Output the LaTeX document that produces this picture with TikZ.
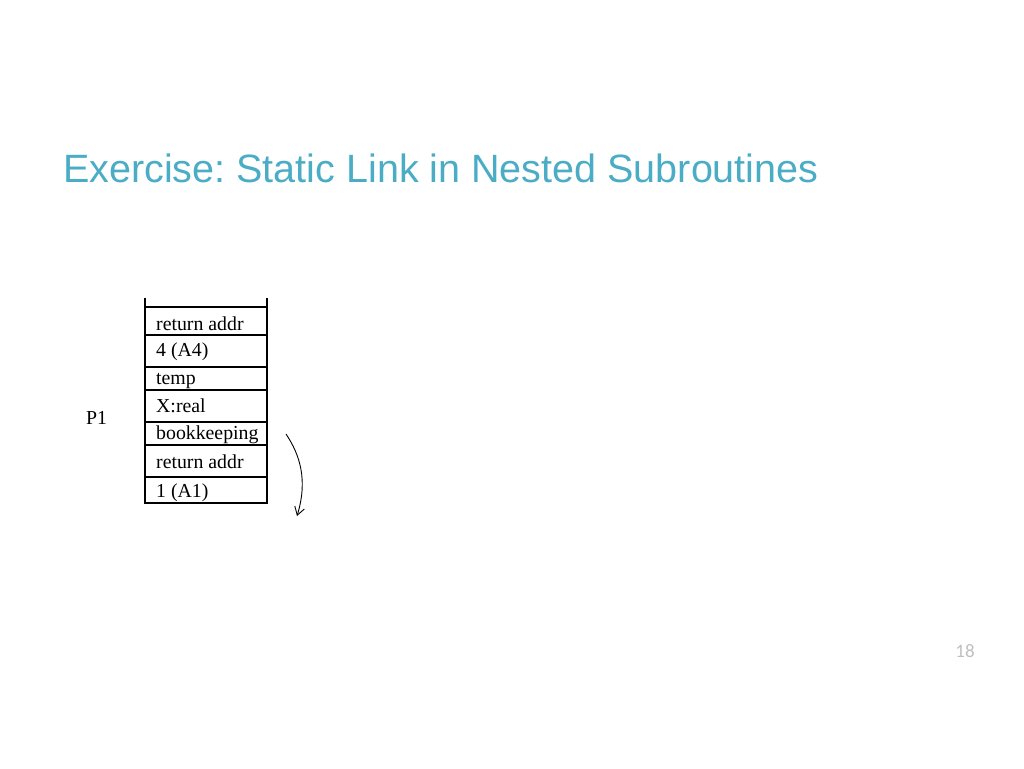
\documentclass[tikz,border=0pt]{standalone}
\usepackage{fontspec}
\setmainfont{Liberation Serif}
\newfontfamily\titlefont{Liberation Sans}
\newfontfamily\numfont{Carlito}
\usetikzlibrary{arrows.meta}
\frenchspacing
\definecolor{titleblue}{RGB}{75,172,198}
\tikzset{
  cell/.style={anchor=west,inner sep=0pt,font=\fontsize{19.8}{21}\selectfont},
  wall/.style={line width=1.1pt},
}
\begin{document}
\begin{tikzpicture}[x=1pt,y=-1pt]
                    \useasboundingbox (0,0) rectangle (1024,768);
                    %TITLE
                    \node[anchor=west,inner sep=0pt,text=titleblue,font=\titlefont\fontsize{39.5}{42}\selectfont] (T) at (63,168){Exercise: Static Link in Nested Subroutines};
                    \node[inner sep=0pt,text=black!25,font=\numfont\fontsize{19}{20}\selectfont] (N) at (965,651){18};

                    %NODE
                    \node[cell] (A) at (156,324){return addr};
                    \node[cell] (B) at (156,351.5){4 (A4)};
                    \node[cell] (C) at (156,381){temp};
                    \node[cell] (D) at (156,406){X:real};
                    \node[cell] (E) at (156,435){bookkeeping};
                    \node[cell] (F) at (156,462){return addr};
                    \node[cell] (G) at (156,493){1 (A1)};
                    \node[cell] (P) at (86,418){P1};

                    %STACK
                    \draw[wall] (145,298) -- (145,504);
                    \draw[line width=2.2pt] (267,298) -- (267,504);
                    \foreach \y in {307,335,367,390,422,445,477,503}
                        \draw[wall] (145,\y) -- (267,\y);

                    %EDGE
                    \coordinate (s) at (286,434);
                    \coordinate (t) at (297,516);
                    \draw[-{Straight Barb[length=8pt,width=10pt]},line width=0.9pt] (s) .. controls (300,455) and (308,480) .. (t);
                \end{tikzpicture}
\end{document}
